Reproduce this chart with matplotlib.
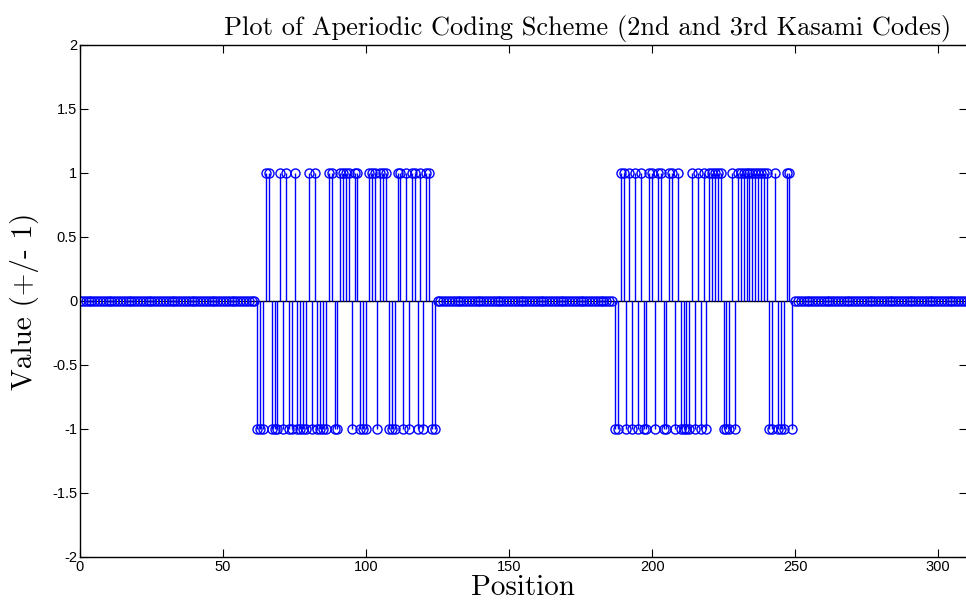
import numpy as np
import matplotlib
matplotlib.use("Agg")
import matplotlib.pyplot as plt

# === Data ===
lead_zeros = 62      # zeros before the first code
gap_zeros = 62       # zeros between the two codes
tail_zeros = 62      # zeros after the second code

# 2nd Kasami code (positions 62..124)
code_2nd = [-1, -1, -1, 1, 1, -1, -1, -1, 1, -1, 1, -1, -1, 1, -1,
            -1, -1, -1, 1, -1, 1, -1, -1, -1, -1, 1, 1, -1, -1, 1, 1, 1,
            1, -1, 1, 1, -1, -1, -1, 1, 1, 1, -1, 1, 1, 1, -1, -1, -1,
            1, 1, -1, 1, -1, 1, 1, -1, 1, -1, 1, 1, -1, -1]

# 3rd Kasami code (positions 187..249)
code_3rd = [-1, -1, 1, 1, -1, 1, -1, 1, -1, 1, -1, -1, 1, 1, -1, 1, 1, -1, -1, 1, 1,
            -1, 1, -1, -1, -1, -1, 1, -1, 1, -1, 1, -1, 1, 1, 1, 1, 1, -1, -1, -1, 1, -1,
            1, 1, 1, 1, 1, 1, 1, 1, 1, 1, 1, -1, -1, 1, -1, -1, -1, 1, 1, -1]

signal = ([0] * lead_zeros + code_2nd + [0] * gap_zeros + code_3rd + [0] * tail_zeros)
positions = np.arange(len(signal))

x_ticks = [0, 50, 100, 150, 200, 250, 300]
y_ticks = [-2, -1.5, -1, -0.5, 0, 0.5, 1, 1.5, 2]
y_ticklabels = ["-2", "-1.5", "-1", "-0.5", "0", "0.5", "1", "1.5", "2"]

# === Style ===
plt.rcParams["font.family"] = ["Liberation Sans", "DejaVu Sans"]
latex_font = "cmr10"   # Computer Modern, ships with matplotlib

fig = plt.figure(figsize=(9.66, 6.07), dpi=100)
ax = fig.add_axes([0.0828, 0.0824, 0.918, 0.8435])

ax.axhline(0, color="black", lw=1.0, zorder=1)
markerline, stemlines, baseline = ax.stem(positions, signal, linefmt="b-", markerfmt="bo", basefmt=" ")
plt.setp(stemlines, linewidth=1.0, color="blue")
plt.setp(markerline, markersize=6.5, markerfacecolor="none", markeredgecolor="blue", markeredgewidth=1.0)

ax.set_xlim(0, 310)
ax.set_ylim(-2, 2)
ax.set_xticks(x_ticks)
ax.set_yticks(y_ticks)
ax.set_yticklabels(y_ticklabels)
ax.tick_params(direction="in", top=True, right=True, length=6, labelsize=10.5, pad=2)
for sp in ax.spines.values():
    sp.set_linewidth(1.0)

# title sits right of the visible axes centre in the reference
ax.set_title("Plot of Aperiodic Coding Scheme (2nd and 3rd Kasami Codes)",
             fontname=latex_font, fontsize=19, pad=7, x=0.573)
ax.set_xlabel("Position", fontname=latex_font, fontsize=21, labelpad=1)
ax.set_ylabel("Value (+/- 1)", fontname=latex_font, fontsize=21, labelpad=9)

fig.savefig("out.png", dpi=100)
